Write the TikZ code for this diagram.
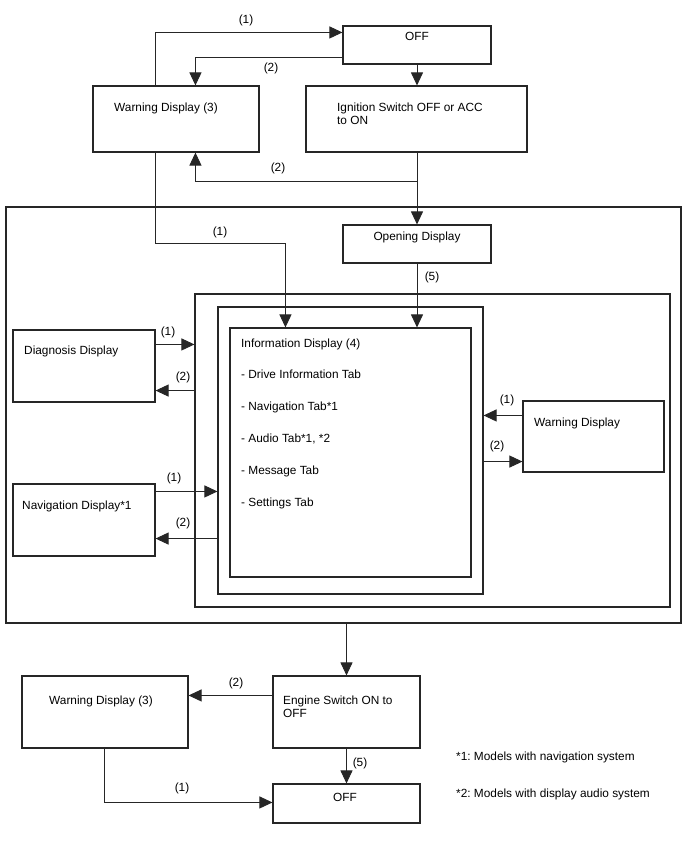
\documentclass[tikz,border=0pt]{standalone}
\usepackage{fontspec}
\setmainfont{Liberation Sans}
\usetikzlibrary{arrows.meta,positioning,fit,calc}
\frenchspacing

\tikzset{
  box/.style={draw=black!85, line width=1.1pt, inner sep=0pt},
  txt/.style={anchor=base west, inner sep=0pt, align=left},
  lbl/.style={inner sep=0pt},
  arr/.style={draw=black!85, line width=0.9pt, -{Triangle[length=13pt,width=12pt]}}
}

\begin{document}
\begin{tikzpicture}[x=1pt,y=-1pt,font=\fontsize{11.85}{13}\selectfont]
  % pixel grid of the 688x852 sheet, y grows downwards
  \useasboundingbox (0,0) rectangle (688,852);
  \def\bx#1#2#3#4#5{\node[box,fit={(#2,#3) (#4,#5)}] (#1) {};}  % name, x1, y1, x2, y2

  % nested frames
  \bx{outer}{6}{207}{681}{623}
  \bx{mid}{195}{294}{670}{607}
  \bx{inner}{218}{307}{483}{594}
  \bx{info}{230}{328}{471}{577}

  % state boxes
  \bx{offA}{343}{26}{491}{64}
  \bx{warnA}{93}{86}{259}{152}
  \bx{ignA}{306}{86}{527}{152}
  \bx{opening}{343}{225}{491}{263}
  \bx{diag}{13}{330}{155}{402}
  \bx{nav}{13}{484}{155}{556}
  \bx{warnB}{523}{401}{664}{472}
  \bx{warnC}{22}{676}{188}{748}
  \bx{engine}{273}{676}{420}{748}
  \bx{offB}{273}{784}{420}{823}

  % box texts (multi-line nodes sit on their last baseline)
  \node[lbl,anchor=base] (offA-t) at (417,40) {OFF};
  \node[txt] (warnA-t) at (114,111) {Warning Display (3)};
  \node[txt] (ignA-t) at (337,124) {Ignition Switch OFF or ACC\\to ON};
  \node[lbl,anchor=base] (opening-t) at (417,240) {Opening Display};
  \node[txt,font=\fontsize{11.85}{31.9}\selectfont] (info-t) at (241,506.5)
    {Information Display (4)\\- Drive Information Tab\\- Navigation Tab*1\\- Audio Tab*1, *2\\- Message Tab\\- Settings Tab};
  \node[txt] (diag-t) at (24,354) {Diagnosis Display};
  \node[txt] (nav-t) at (22,509) {Navigation Display*1};
  \node[txt] (warnB-t) at (534,426) {Warning Display};
  \node[txt] (warnC-t) at (49,704) {Warning Display (3)};
  \node[txt] (engine-t) at (283,717) {Engine Switch ON to\\OFF};
  \node[lbl,anchor=base] (offB-t) at (345,801) {OFF};

  % footnotes
  \node[txt] (note1) at (456,760) {*1: Models with navigation system};
  \node[txt] (note2) at (456,797) {*2: Models with display audio system};

  % top part
  \coordinate (splitA) at (417,181);
  \draw[arr] ([xshift=63pt]warnA.north west) |- ([yshift=-7pt]offA.north west);
  \draw[arr] ([yshift=7pt]offA.south west) -| ([xshift=103pt]warnA.north west);
  \draw[arr] (offA.south) -- (offA.south |- ignA.north);
  \draw[arr] (opening.north |- ignA.south) -- (opening.north);
  \draw[arr] (splitA) -| ([xshift=103pt]warnA.south west);
  \draw[arr] ([xshift=63pt]warnA.south west) |- ([xshift=56pt,yshift=84pt]info.north west)
    -- ([xshift=56pt]info.north west);
  \draw[arr] (opening.south) -- (opening.south |- info.north);
  \node[lbl] (lbA1) at (246,20) {(1)};
  \node[lbl] (lbA2) at (271,68) {(2)};
  \node[lbl] (lbA3) at (278,168) {(2)};
  \node[lbl] (lbB1) at (220,232) {(1)};
  \node[lbl] (lbB5) at (432,277) {(5)};

  % side displays
  \draw[arr] ([yshift=-15pt]diag.north east) -- ([yshift=-15pt]diag.north east -| mid.west);
  \draw[arr] ([yshift=12pt]diag.south east -| mid.west) -- ([yshift=12pt]diag.south east);
  \draw[arr] ([yshift=-8pt]nav.north east) -- ([yshift=-8pt]nav.north east -| inner.west);
  \draw[arr] ([yshift=18pt]nav.south east -| inner.west) -- ([yshift=18pt]nav.south east);
  \draw[arr] ([yshift=-15pt]warnB.north west) -- ([yshift=-15pt]warnB.north west -| inner.east);
  \draw[arr] ([yshift=11pt]warnB.south west -| inner.east) -- ([yshift=11pt]warnB.south west);
  \node[lbl] (lbD1) at (168,332) {(1)};
  \node[lbl] (lbD2) at (183,377) {(2)};
  \node[lbl] (lbN1) at (174,478) {(1)};
  \node[lbl] (lbN2) at (183,523) {(2)};
  \node[lbl] (lbW1) at (507,400) {(1)};
  \node[lbl] (lbW2) at (497,446) {(2)};

  % bottom part
  \draw[arr] (outer.south -| engine.north) -- (engine.north);
  \draw[arr] ([yshift=-20pt]engine.north west) -- ([yshift=-20pt]engine.north west -| warnC.east);
  \draw[arr] (engine.south) -- (offB.north);
  \draw[arr] ([xshift=83pt]warnC.south west) |- ([yshift=-19pt]offB.north west);
  \node[lbl] (lbE2) at (236,683) {(2)};
  \node[lbl] (lbE5) at (360,763) {(5)};
  \node[lbl] (lbE1) at (182,788) {(1)};
\end{tikzpicture}
\end{document}
